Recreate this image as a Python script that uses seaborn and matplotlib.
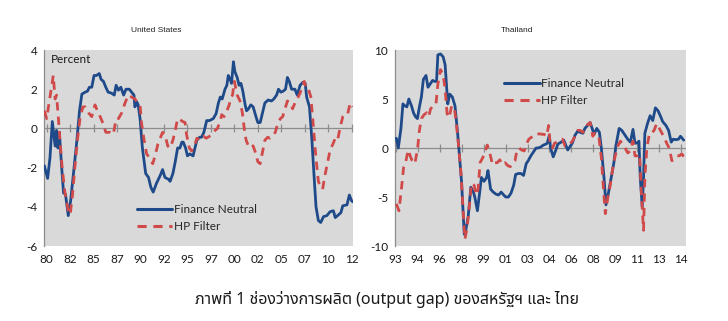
import numpy as np
import pandas as pd
import matplotlib
matplotlib.use("Agg")
import matplotlib.pyplot as plt
import seaborn as sns
from matplotlib import font_manager
from matplotlib.ft2font import FT2Font

# ---------------- data ----------------
us_fn_year = [1979.75, 1980.1, 1980.35, 1980.6, 1980.8, 1980.9, 1981.05, 1981.2, 1981.35, 1981.6, 1981.8,
              1982.0, 1982.3, 1982.55, 1982.85, 1983.2, 1983.5, 1983.75, 1984.1, 1984.35, 1984.55, 1984.8,
              1985.05, 1985.3, 1985.6, 1985.8, 1986.05, 1986.3, 1986.55, 1986.9, 1987.2, 1987.4, 1987.65,
              1987.9, 1988.2, 1988.45, 1988.8, 1989.05, 1989.3, 1989.4, 1989.6, 1989.75, 1989.95, 1990.2,
              1990.55, 1990.85, 1991.1, 1991.35, 1991.7, 1992.1, 1992.35, 1992.6, 1993.0, 1993.15, 1993.45,
              1993.7, 1993.95, 1994.2, 1994.4, 1994.55, 1994.8, 1995.0, 1995.25, 1995.6, 1996.0, 1996.3,
              1996.5, 1996.75, 1997.05, 1997.35, 1997.75, 1998.05, 1998.3, 1998.5, 1998.7, 1999.0, 1999.2,
              1999.35, 1999.55, 1999.7, 1999.9, 2000.05, 2000.3, 2000.5, 2000.7, 2000.9, 2001.15, 2001.3,
              2001.5, 2001.75, 2002.0, 2002.3, 2002.5, 2002.75, 2003.0, 2003.25, 2003.6, 2003.95, 2004.2,
              2004.5, 2004.7, 2004.95, 2005.2, 2005.45, 2005.65, 2005.85, 2006.1, 2006.45, 2006.7, 2007.0,
              2007.3, 2007.55, 2007.7, 2008.0, 2008.25, 2008.5, 2008.7, 2008.95, 2009.2, 2009.5, 2009.85,
              2010.2, 2010.55, 2010.75, 2011.1, 2011.35, 2011.55, 2012.0, 2012.25, 2012.5, 2012.65]
us_fn_val = [-1.9, -2.55, -1.5, 0.35, -0.5, -0.9, -0.1, -1.0, -0.2, -2.0, -3.3,
             -3.35, -4.45, -3.7, -2.3, -0.7, 0.9, 1.75, 1.85, 1.9, 2.1, 2.1,
             2.7, 2.7, 2.8, 2.5, 2.4, 2.1, 1.85, 1.8, 1.7, 2.2, 1.95,
             2.1, 1.7, 2.0, 2.0, 1.85, 1.7, 1.1, 1.35, 1.2, 0.5, -1.0,
             -2.3, -2.5, -3.0, -3.25, -2.8, -2.4, -2.1, -2.5, -2.6, -2.7, -2.3,
             -1.7, -1.0, -1.0, -0.7, -0.7, -1.0, -1.4, -1.3, -1.4, -0.6, -0.45,
             -0.45, -0.2, 0.4, 0.4, 0.5, 0.75, 1.3, 1.6, 1.5, 2.0, 2.2,
             2.7, 2.5, 2.3, 3.4, 2.9, 2.6, 2.2, 2.3, 1.9, 1.2, 0.9,
             1.0, 1.2, 1.1, 0.6, 0.3, 0.3, 0.8, 1.3, 1.45, 1.4, 1.5,
             1.7, 2.0, 1.85, 1.9, 2.0, 2.6, 2.4, 2.0, 2.0, 1.7, 2.2,
             2.35, 2.3, 1.6, 1.1, -0.5, -2.5, -4.0, -4.7, -4.8, -4.5, -4.45,
             -4.25, -4.2, -4.55, -4.4, -4.3, -3.95, -3.9, -3.4, -3.7, -3.75]

us_hp_year = [1979.75, 1980.0, 1980.25, 1980.55, 1980.7, 1980.9, 1981.05, 1981.25, 1981.4, 1981.65, 1981.95,
              1982.3, 1982.5, 1982.75, 1983.0, 1983.3, 1983.55, 1983.85, 1984.1, 1984.45, 1984.8, 1985.15,
              1985.4, 1985.7, 1986.05, 1986.3, 1986.75, 1987.1, 1987.4, 1987.65, 1988.0, 1988.35, 1988.7,
              1989.05, 1989.4, 1989.75, 1989.95, 1990.1, 1990.35, 1990.65, 1990.95, 1991.3, 1991.55, 1991.85,
              1992.1, 1992.35, 1992.6, 1992.9, 1993.15, 1993.45, 1993.7, 1993.95, 1994.2, 1994.5, 1994.75,
              1994.9, 1995.2, 1995.45, 1995.75, 1996.0, 1996.35, 1996.7, 1997.0, 1997.35, 1997.65, 1997.95,
              1998.2, 1998.5, 1998.65, 1998.9, 1999.2, 1999.45, 1999.6, 1999.8, 2000.0, 2000.3, 2000.6,
              2000.85, 2001.05, 2001.25, 2001.5, 2001.75, 2002.0, 2002.3, 2002.5, 2002.75, 2003.0, 2003.25,
              2003.55, 2003.8, 2004.1, 2004.35, 2004.6, 2004.9, 2005.15, 2005.4, 2005.65, 2005.95, 2006.2,
              2006.45, 2006.7, 2007.0, 2007.2, 2007.45, 2007.65, 2007.9, 2008.15, 2008.35, 2008.6, 2008.8,
              2008.95, 2009.2, 2009.4, 2009.65, 2009.95, 2010.2, 2010.5, 2010.75, 2011.0, 2011.25, 2011.55,
              2011.8, 2012.05, 2012.35, 2012.6]
us_hp_val = [0.9, 0.5, 1.3, 2.2, 2.7, 1.5, 1.7, 0.5, -0.5, -2.0, -3.3,
             -4.2, -4.4, -3.4, -2.0, -0.5, 0.5, 1.1, 1.1, 0.8, 0.6, 1.2,
             0.9, 0.6, 0.2, -0.2, -0.2, -0.3, 0.5, 0.5, 0.8, 1.3, 1.7,
             1.6, 1.5, 1.3, 1.2, 0.3, -0.5, -1.3, -1.5, -1.8, -1.4, -0.8,
             -0.5, -0.2, -0.3, -0.9, -1.0, -0.6, -0.1, 0.5, 0.45, 0.35, 0.3,
             -0.3, -1.0, -1.15, -0.9, -0.5, -0.6, -0.4, -0.5, -0.4, -0.3, -0.1,
             0.0, 0.4, 0.7, 0.6, 0.9, 1.2, 1.5, 1.7, 2.4, 1.7, 1.4,
             0.8, 0.0, -0.6, -0.9, -0.8, -0.9, -1.3, -1.7, -1.8, -1.2, -0.6,
             -0.45, -0.5, -0.4, -0.2, 0.2, 0.5, 0.6, 1.0, 1.4, 1.3, 1.0,
             1.3, 1.5, 1.8, 2.1, 2.4, 2.0, 2.0, 1.6, 0.5, -1.0, -2.0,
             -2.7, -3.0, -3.1, -2.4, -1.7, -1.1, -0.8, -0.5, -0.6, 0.0, 0.6,
             0.7, 0.7, 1.3, 1.1]

th_fn_year = [1993.05, 1993.2, 1993.4, 1993.55, 1993.7, 1993.85, 1994.0, 1994.2, 1994.35, 1994.5, 1994.65,
              1994.8, 1994.95, 1995.1, 1995.3, 1995.45, 1995.6, 1995.8, 1995.95, 1996.1, 1996.2, 1996.4,
              1996.6, 1996.75, 1996.85, 1996.95, 1997.1, 1997.3, 1997.5, 1997.7, 1997.85, 1998.0, 1998.2,
              1998.3, 1998.5, 1998.7, 1998.9, 1999.0, 1999.2, 1999.4, 1999.5, 1999.7, 1999.9, 2000.0,
              2000.2, 2000.4, 2000.6, 2000.8, 2001.0, 2001.2, 2001.35, 2001.55, 2001.75, 2001.95, 2002.1,
              2002.3, 2002.5, 2002.7, 2002.9, 2003.05, 2003.25, 2003.45, 2003.65, 2003.8, 2004.0, 2004.2,
              2004.4, 2004.5, 2004.65, 2004.75, 2004.95, 2005.15, 2005.3, 2005.55, 2005.75, 2005.9, 2006.05,
              2006.25, 2006.4, 2006.6, 2006.8, 2007.0, 2007.2, 2007.35, 2007.55, 2007.75, 2007.9, 2008.05,
              2008.25, 2008.45, 2008.6, 2008.8, 2008.95, 2009.15, 2009.35, 2009.55, 2009.7, 2009.95, 2010.15,
              2010.35, 2010.6, 2010.8, 2011.0, 2011.15, 2011.3, 2011.45, 2011.55, 2011.7, 2011.8, 2011.9,
              2012.1, 2012.3, 2012.5, 2012.7, 2012.9, 2013.1, 2013.25, 2013.5, 2013.7, 2013.9, 2014.05,
              2014.25, 2014.45, 2014.6, 2014.85]
th_fn_val = [1.0, 0.0, 2.0, 4.5, 4.3, 4.2, 5.0, 4.3, 3.6, 3.2, 3.0,
             4.2, 5.2, 7.0, 7.4, 6.2, 6.5, 6.9, 6.8, 6.8, 9.5, 9.6,
             9.3, 8.5, 6.5, 4.5, 5.5, 5.2, 4.3, 1.5, -1.0, -3.5, -8.8,
             -8.5, -7.0, -4.0, -4.5, -5.0, -6.4, -4.2, -3.0, -3.4, -3.0, -2.3,
             -4.2, -4.5, -4.7, -4.8, -4.5, -4.8, -5.0, -5.0, -4.6, -3.8, -2.7,
             -2.6, -2.6, -2.8, -1.6, -1.3, -0.8, -0.4, 0.0, 0.0, 0.1, 0.3,
             0.4, 0.5, 1.3, 0.0, -0.9, -0.2, 0.4, 0.6, 0.8, 0.3, -0.2,
             0.2, 0.5, 1.3, 1.7, 1.6, 1.5, 2.0, 2.3, 2.6, 2.0, 1.4,
             2.0, 1.6, 0.0, -3.0, -5.8, -4.5, -3.0, -1.5, 0.2, 2.0, 1.8,
             1.4, 0.9, 0.6, 1.9, 0.5, 0.5, 0.7, -3.0, -6.0, -3.0, 1.5,
             2.5, 3.3, 2.8, 4.1, 3.8, 3.2, 2.7, 2.3, 1.8, 0.6, 0.9,
             0.85, 0.9, 1.2, 0.8]

th_hp_year = [1993.05, 1993.25, 1993.45, 1993.6, 1993.75, 1993.95, 1994.1, 1994.25, 1994.45, 1994.65, 1994.8,
              1994.95, 1995.15, 1995.35, 1995.5, 1995.65, 1995.85, 1996.05, 1996.2, 1996.4, 1996.6, 1996.75,
              1996.9, 1997.05, 1997.25, 1997.45, 1997.6, 1997.75, 1997.95, 1998.1, 1998.25, 1998.4, 1998.55,
              1998.75, 1998.95, 1999.1, 1999.25, 1999.4, 1999.6, 1999.75, 1999.95, 2000.15, 2000.35, 2000.5,
              2000.7, 2000.9, 2001.1, 2001.3, 2001.5, 2001.7, 2001.85, 2002.05, 2002.2, 2002.35, 2002.55,
              2002.75, 2002.95, 2003.1, 2003.3, 2003.5, 2003.7, 2003.9, 2004.1, 2004.25, 2004.45, 2004.6,
              2004.7, 2004.9, 2005.05, 2005.25, 2005.5, 2005.65, 2005.85, 2006.05, 2006.2, 2006.4, 2006.6,
              2006.8, 2007.0, 2007.2, 2007.4, 2007.55, 2007.75, 2007.95, 2008.1, 2008.25, 2008.4, 2008.6,
              2008.75, 2008.9, 2009.1, 2009.25, 2009.45, 2009.65, 2009.85, 2010.05, 2010.2, 2010.4, 2010.6,
              2010.8, 2011.0, 2011.15, 2011.35, 2011.5, 2011.65, 2011.8, 2011.9, 2012.05, 2012.25, 2012.4,
              2012.6, 2012.8, 2013.0, 2013.2, 2013.4, 2013.55, 2013.75, 2013.95, 2014.15, 2014.35, 2014.5,
              2014.7, 2014.9]
th_hp_val = [-5.7, -6.4, -4.0, -2.0, -1.5, -0.2, -0.8, -1.3, -1.6, -0.2, 1.8,
             3.0, 3.4, 3.6, 3.2, 4.0, 4.3, 4.4, 6.5, 8.0, 7.5, 6.0,
             3.5, 3.1, 4.3, 4.1, 2.5, 0.5, -2.5, -6.0, -9.3, -8.3, -6.5,
             -3.6, -3.8, -4.8, -4.2, -1.5, -1.0, -0.5, 0.3, -0.6, -1.7, -1.5,
             -1.5, -1.2, -1.7, -1.5, -1.8, -1.9, -1.6, -1.3, -0.2, 0.0, -0.2,
             -0.3, 0.5, 0.9, 1.1, 1.4, 1.4, 1.45, 1.4, 1.4, 1.2, 2.3,
             0.7, 0.0, 0.5, 0.6, 0.9, 0.9, 0.2, 0.2, 0.4, 0.7, 1.2,
             1.8, 1.8, 1.6, 1.9, 2.4, 2.6, 1.2, 1.5, 1.4, 1.3, -1.0,
             -4.0, -6.7, -5.0, -4.0, -2.2, -0.8, 0.2, 0.7, 0.4, 0.0, -0.5,
             -0.3, 0.7, -0.8, -0.8, -0.6, -5.0, -8.4, -3.0, 0.0, 1.5, 1.5,
             1.8, 2.5, 2.0, 1.5, 1.0, 0.5, 0.0, -1.3, -1.1, -0.8, -0.8,
             -0.6, -1.0]

us_tick_labels = ["80", "82", "85", "87", "90", "92", "95", "97", "00", "02", "05", "07", "10", "12"]
th_tick_labels = ["93", "94", "96", "98", "99", "01", "03", "04", "06", "08", "09", "11", "13", "14"]
series_names = ["Finance Neutral", "HP Filter"]

# ---------------- styling ----------------
sns.set_style("white")


def find_font(ch, prefer):
    for name in prefer:
        try:
            path = font_manager.findfont(name, fallback_to_default=False)
            if ord(ch) in FT2Font(path).get_charmap():
                return name
        except Exception:
            pass
    for f in font_manager.fontManager.ttflist:
        try:
            if ord(ch) in FT2Font(f.fname).get_charmap():
                return f.name
        except Exception:
            pass
    return "DejaVu Sans"


thai_font = find_font("ภ", ["Noto Sans Thai", "Noto Sans Thai UI", "Tahoma", "Loma", "Garuda", "Noto Sans"])
base_font = "Lato"
plt.rcParams["font.family"] = [base_font, "DejaVu Sans"]

BG = "#d9d9d9"
BLUE = "#1f4a8a"
RED = "#d04a4a"
GRID = "#8c8c8c"


def make_df(fn_year, fn_val, hp_year, hp_val):
    a = pd.DataFrame({"x": fn_year, "y": fn_val, "s": series_names[0]})
    b = pd.DataFrame({"x": hp_year, "y": hp_val, "s": series_names[1]})
    return pd.concat([a, b], ignore_index=True)


fig = plt.figure(figsize=(7.28, 3.21), dpi=100)
ax1 = fig.add_axes([0.0609, 0.2336, 0.4245, 0.6106])
ax2 = fig.add_axes([0.5426, 0.2336, 0.3997, 0.6106])

panels = [
    (ax1, make_df(us_fn_year, us_fn_val, us_hp_year, us_hp_val), (1979.75, 2012.68),
     [1980 + 2.5 * k for k in range(14)], us_tick_labels, (-6, 4), np.arange(-6, 5, 2),
     (0.30, 0.143)),
    (ax2, make_df(th_fn_year, th_fn_val, th_hp_year, th_hp_val), (1992.95, 2015.02),
     [1993 + k * 20 / 12 for k in range(14)], th_tick_labels, (-10, 10), np.arange(-10, 11, 5),
     (0.375, 0.786)),
]

for ax, df, xlim, xt, xtl, ylim, yt, legpos in panels:
    ax.set_facecolor(BG)
    # zero line (category axis) with its tick marks, drawn behind the series
    ax.axhline(0, color=GRID, linewidth=0.9, zorder=1)
    ax.plot(xt, np.zeros(len(xt)), linestyle="none", marker="|", markersize=6,
            markeredgewidth=0.9, color=GRID, zorder=1)
    sns.lineplot(data=df, x="x", y="y", hue="s", style="s", ax=ax,
                 palette={series_names[0]: BLUE, series_names[1]: RED},
                 dashes={series_names[0]: "", series_names[1]: (3, 2.2)},
                 linewidth=2.0, estimator=None, sort=False, zorder=3)
    ax.set_xlim(*xlim)
    ax.set_ylim(*ylim)
    ax.set_xticks(xt)
    ax.set_xticklabels(xtl)
    ax.set_yticks(yt)
    ax.set_yticklabels([str(int(v)) for v in yt])
    ax.set_xlabel("")
    ax.set_ylabel("")
    ax.tick_params(axis="x", length=0, pad=6, labelsize=8.5, labelcolor="#1a1a1a")
    ax.tick_params(axis="y", length=3, width=0.8, color=GRID, pad=2, labelsize=8.5, labelcolor="#1a1a1a")
    for s in ["top", "right", "bottom"]:
        ax.spines[s].set_visible(False)
    ax.spines["left"].set_color(GRID)
    ax.spines["left"].set_linewidth(0.9)
    leg = ax.legend(loc="center left", bbox_to_anchor=legpos, frameon=False,
                    fontsize=8.5, handlelength=3.0, handletextpad=0.15,
                    labelspacing=0.55, borderpad=0, borderaxespad=0)
    for line in leg.get_lines():
        line.set_linewidth(2.2)

ax1.text(0.02, 0.95, "Percent", transform=ax1.transAxes, ha="left", va="center",
         fontsize=8.5, color="#1a1a1a")

fig.text(156 / 728, 1 - 31 / 321, "United States", ha="center", va="center",
         fontsize=6, color="#222222", family=["Liberation Sans", "DejaVu Sans"])
fig.text(517 / 728, 1 - 31 / 321, "Thailand", ha="center", va="center",
         fontsize=6, color="#222222", family=["Liberation Sans", "DejaVu Sans"])

fig.text(387 / 728, 1 - 300 / 321, "ภาพที่ 1 ช่องว่างการผลิต (output gap) ของสหรัฐฯ และ ไทย",
         ha="center", va="center", fontsize=11.5, color="#1a1a1a",
         family=[thai_font, "DejaVu Sans"])

fig.savefig("out.png", dpi=100, facecolor="white")
